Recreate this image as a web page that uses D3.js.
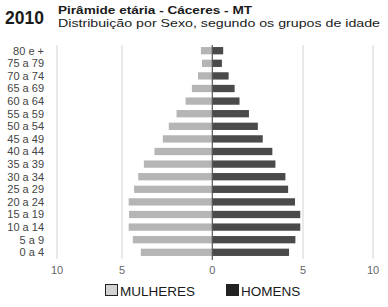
<!DOCTYPE html>
<html lang="pt">
<meta charset="utf-8">
<title>Pirâmide etária - Cáceres - MT</title>
<style>
  body { margin: 0; background: #fff; }
  text { font-family: "Liberation Sans", Arial, sans-serif; }
</style>
<body>
<div id="chart"></div>
<script src="https://cdn.jsdelivr.net/npm/d3@7"></script>
<script>
// age groups, top to bottom
var grupos = ["80 e +", "75 a 79", "70 a 74", "65 a 69", "60 a 64", "55 a 59", "50 a 54",
  "45 a 49", "40 a 44", "35 a 39", "30 a 34", "25 a 29", "20 a 24", "15 a 19",
  "10 a 14", "5 a 9", "0 a 4"];
// percent of population
var mulheres = [0.63, 0.57, 0.79, 1.13, 1.48, 1.98, 2.41, 2.74, 3.2, 3.79, 4.1, 4.33, 4.63, 4.61, 4.63, 4.4, 3.96];
var homens = [0.6, 0.53, 0.9, 1.23, 1.5, 2.02, 2.51, 2.78, 3.31, 3.48, 4.03, 4.18, 4.56, 4.85, 4.85, 4.58, 4.23];
var ticks = [-10, -5, 0, 5, 10];

var W = 388, H = 307;
var svg = d3.select("#chart").append("svg").attr("width", W).attr("height", H);

// the original axis is not evenly spaced, so map each tick to its own spot
var x = d3.scaleLinear().domain(ticks).range([57, 122, 212.3, 303, 373]);
var y = d3.scaleBand().domain(grupos).range([44.4, 258.6]).paddingInner(0.42).paddingOuter(0.21);

// title (the source image is stretched sideways, so stretch the text too)
svg.append("text").attr("x", 5).attr("y", 24).attr("font-size", 17.5).attr("font-weight", "bold")
  .attr("fill", "#1a1a1a").text("2010");
svg.append("text").attr("x", 58).attr("y", 14).attr("font-size", 11.5).attr("font-weight", "bold")
  .attr("fill", "#1a1a1a").attr("textLength", 194).attr("lengthAdjust", "spacingAndGlyphs")
  .text("Pirâmide etária - Cáceres - MT");
svg.append("text").attr("x", 58).attr("y", 27).attr("font-size", 11.8)
  .attr("fill", "#1a1a1a").attr("textLength", 322).attr("lengthAdjust", "spacingAndGlyphs")
  .text("Distribuição por Sexo, segundo os grupos de idade");

// grid
svg.selectAll(".grid").data(ticks.filter(function(t) { return t !== 0; })).enter().append("line")
  .attr("x1", x).attr("x2", x).attr("y1", 45).attr("y2", 259)
  .attr("stroke", "#d4d4d4").attr("stroke-width", 1);

// bars
svg.selectAll(".fem").data(mulheres).enter().append("rect")
  .attr("x", function(d) { return x(-d); })
  .attr("y", function(d, i) { return y(grupos[i]); })
  .attr("width", function(d) { return x(0) - x(-d); })
  .attr("height", y.bandwidth())
  .attr("fill", "#b5b5b5");
svg.selectAll(".masc").data(homens).enter().append("rect")
  .attr("x", x(0))
  .attr("y", function(d, i) { return y(grupos[i]); })
  .attr("width", function(d) { return x(d) - x(0); })
  .attr("height", y.bandwidth())
  .attr("fill", "#4a4a4a");

// zero line
svg.append("line").attr("x1", x(0)).attr("x2", x(0)).attr("y1", 45).attr("y2", 260)
  .attr("stroke", "#555").attr("stroke-width", 1.2);

// category labels
svg.selectAll(".lab").data(grupos).enter().append("text")
  .attr("x", 44).attr("y", function(d) { return y(d) + y.bandwidth() / 2; })
  .attr("dy", "0.35em").attr("text-anchor", "end")
  .attr("font-size", 11).attr("fill", "#444").text(function(d) { return d; });

// x tick labels
svg.selectAll(".tick").data(ticks).enter().append("text")
  .attr("x", x).attr("y", 274).attr("text-anchor", "middle")
  .attr("font-size", 11).attr("fill", "#666").text(function(d) { return Math.abs(d); });

// legend
var leg = [{ nome: "MULHERES", cor: "#d2d2d2", x: 105 }, { nome: "HOMENS", cor: "#222", x: 226 }];
var lg = svg.selectAll(".leg").data(leg).enter().append("g");
lg.append("rect").attr("x", function(d) { return d.x + 0.5; }).attr("y", 284.5)
  .attr("width", 12).attr("height", 11)
  .attr("fill", function(d) { return d.cor; }).attr("stroke", "#222").attr("stroke-width", 1);
lg.append("text").attr("x", function(d) { return d.x + 15; }).attr("y", 295.5)
  .attr("font-size", 13.5).attr("fill", "#1a1a1a").text(function(d) { return d.nome; });
</script>
</body>
</html>
